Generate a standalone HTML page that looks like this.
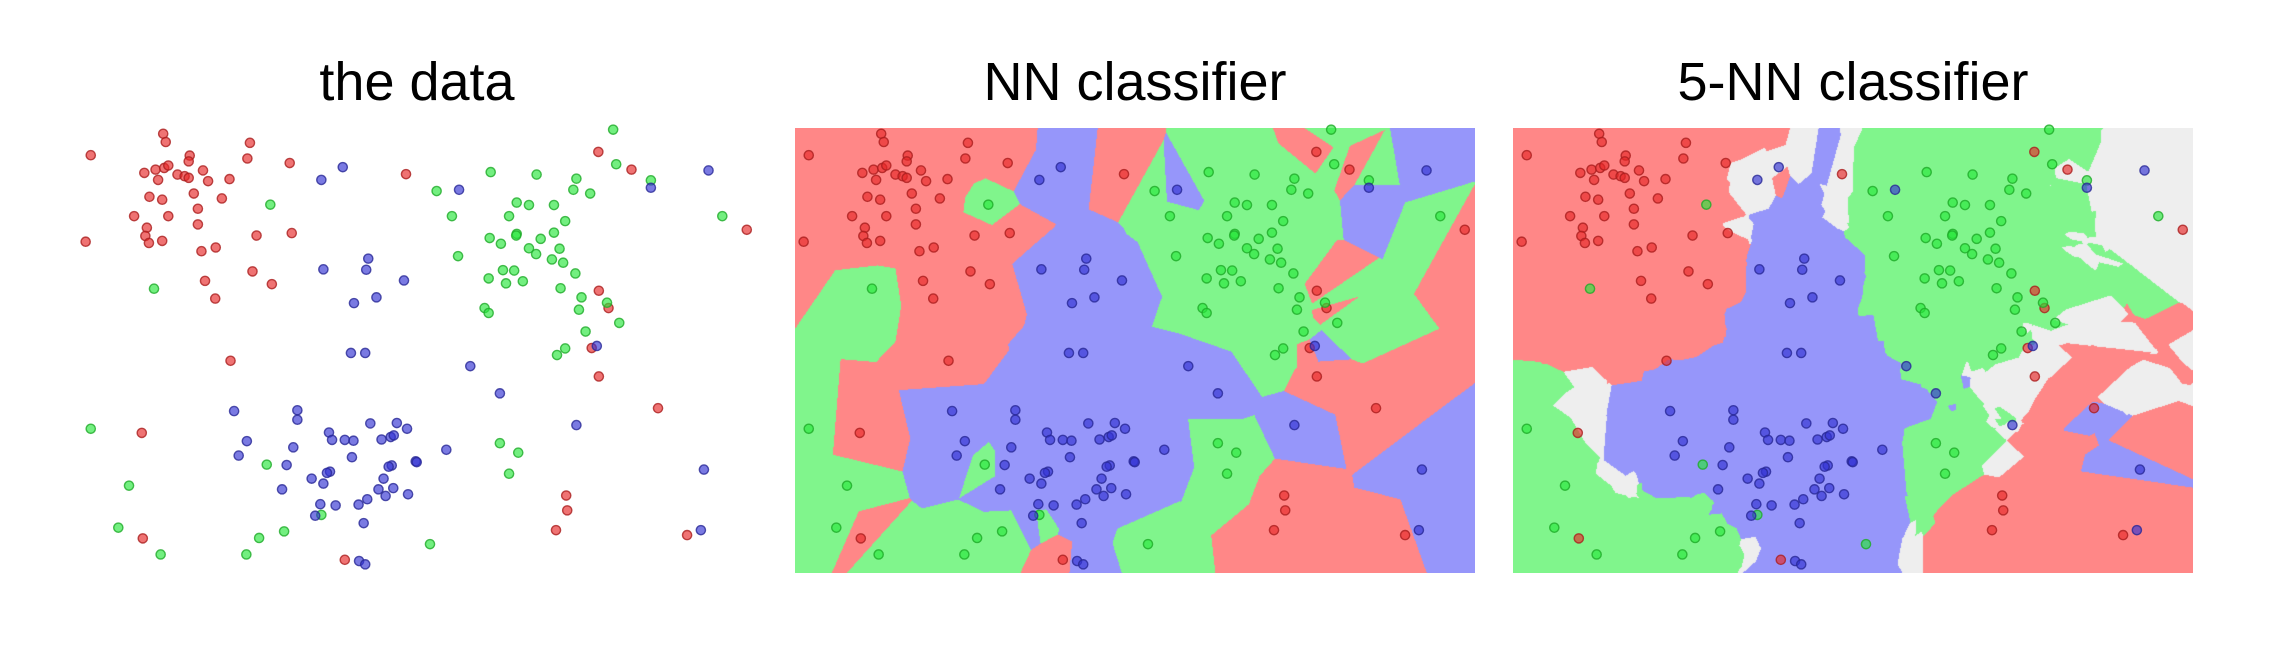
<!DOCTYPE html>
<html><head><meta charset="utf-8">
<style>
body{margin:0;width:2284px;height:646px;background:#fff;position:relative;overflow:hidden;font-family:"Liberation Sans",sans-serif;}
.title{position:absolute;top:50px;width:680px;text-align:center;font-size:54px;color:#000;line-height:64px;}
.panel{position:absolute;top:128px;width:680px;height:445px;}
.panel canvas,.panel svg{position:absolute;left:0;top:0;}
</style></head><body>
<div class="title" style="left:77px">the data</div>
<div class="title" style="left:795px">NN classifier</div>
<div class="title" style="left:1513px">5-NN classifier</div>
<div class="panel" id="p1" style="left:77px"></div>
<div class="panel" id="p2" style="left:795px"></div>
<div class="panel" id="p3" style="left:1513px"></div>
<script>
const redPoints=[[178,377],[320,325],[325,345],[490,347],[485,385],[568,396],[372,378],[370,392],[283,420],[305,412],[322,408],[330,402],[348,424],[362,428],[370,432],[398,414],[408,440],[450,435],[310,437],[293,478],[318,485],[380,470],[435,482],[388,507],[263,525],[330,525],[388,545],[288,553],[285,573],[292,590],[318,585],[168,587],[503,572],[572,566],[395,610],[423,601],[495,659],[533,690],[402,682],[422,725],[796,423],[1173,369],[1238,412],[1464,558],[1174,706],[1193,748],[1160,845],[1174,914],[452,876],[1290,991],[278,1051],[280,1307],[1110,1203],[1112,1239],[1090,1287],[1347,1299],[676,1359]];
const greenPoints=[[1202,315],[1208,399],[962,418],[1052,424],[1130,434],[1124,461],[1157,470],[1276,438],[856,464],[886,525],[1013,492],[1037,498],[1086,498],[998,525],[1108,537],[1416,525],[530,497],[960,578],[982,592],[1013,568],[1012,572],[1060,580],[1086,565],[1037,603],[1051,617],[1097,604],[1082,630],[1104,638],[898,622],[958,676],[986,656],[1008,657],[992,688],[1025,683],[1128,664],[1099,700],[1140,722],[1135,752],[950,748],[958,760],[1190,735],[1214,784],[1148,805],[1108,846],[1092,862],[302,701],[178,1041],[980,1076],[1016,1099],[998,1150],[523,1128],[253,1179],[232,1281],[315,1346],[508,1306],[557,1290],[483,1346],[843,1321],[630,1250]];
const bluePoints=[[672,406],[630,437],[900,461],[1276,456],[1389,414],[722,628],[718,655],[634,654],[792,681],[738,722],[694,736],[688,857],[716,857],[922,889],[980,955],[1170,840],[459,998],[583,996],[583,1019],[726,1028],[778,1027],[798,1041],[645,1050],[651,1068],[676,1068],[693,1070],[748,1067],[766,1061],[772,1057],[484,1071],[575,1086],[468,1106],[690,1110],[875,1092],[562,1129],[647,1145],[641,1148],[768,1130],[762,1133],[815,1120],[817,1122],[611,1162],[634,1174],[752,1162],[553,1188],[742,1188],[771,1185],[756,1204],[800,1200],[720,1212],[628,1224],[658,1227],[703,1225],[618,1252],[713,1270],[1130,1032],[1380,1140],[1374,1287],[704,1362],[716,1370]];
const xDomain=[151,1484];
const yDomain=[311,1391];
const W=680,H=445;
function sx(v){return (v-xDomain[0])/(xDomain[1]-xDomain[0])*W;}
function sy(v){return (v-yDomain[0])/(yDomain[1]-yDomain[0])*H;}
const classes=[{pts:redPoints,name:'red',fill:'rgba(230,40,40,0.65)',stroke:'rgba(170,30,30,0.8)',region:[255,135,135]},
{pts:greenPoints,name:'green',fill:'rgba(40,230,60,0.65)',stroke:'rgba(30,170,40,0.8)',region:[128,245,140]},
{pts:bluePoints,name:'blue',fill:'rgba(50,50,210,0.65)',stroke:'rgba(40,40,150,0.8)',region:[150,150,250]}];
const gray=[238,238,238];
const all=[];
classes.forEach((c,ci)=>c.pts.forEach(p=>all.push([sx(p[0]),sy(p[1]),ci])));
function region(id,k){
  const cv=document.createElement('canvas');cv.width=W;cv.height=H;
  
  
  const ctx=cv.getContext('2d');const img=ctx.createImageData(W,H);const d=img.data;
  const bd=new Array(k),bc=new Array(k);
  for(let y=0;y<H;y++)for(let x=0;x<W;x++){
    for(let i=0;i<k;i++){bd[i]=1e18;bc[i]=-1;}
    for(const p of all){const dx=p[0]-x,dy=p[1]-y,dd=dx*dx+dy*dy;
      if(dd<bd[k-1]){let j=k-1;while(j>0&&bd[j-1]>dd){bd[j]=bd[j-1];bc[j]=bc[j-1];j--;}bd[j]=dd;bc[j]=p[2];}}
    const cnt=[0,0,0];for(let i=0;i<k;i++)cnt[bc[i]]++;
    let m=Math.max(...cnt);let win=cnt.filter(c=>c===m).length>1?-1:cnt.indexOf(m);
    const col=win<0?gray:classes[win].region;const o=(y*W+x)*4;
    d[o]=col[0];d[o+1]=col[1];d[o+2]=col[2];d[o+3]=255;}
  ctx.putImageData(img,0,0);document.getElementById(id).appendChild(cv);
}
function points(id){
  const ns='http://www.w3.org/2000/svg';const svg=document.createElementNS(ns,'svg');
  svg.setAttribute('width',W);svg.setAttribute('height',H);svg.style.overflow='visible';
  
  
  classes.forEach(c=>c.pts.forEach(p=>{const e=document.createElementNS(ns,'circle');
    e.setAttribute('cx',sx(p[0]));e.setAttribute('cy',sy(p[1]));e.setAttribute('r',4.6);
    e.setAttribute('fill',c.fill);e.setAttribute('stroke',c.stroke);e.setAttribute('stroke-width',1.4);
    
    
    svg.appendChild(e);}));
  document.getElementById(id).appendChild(svg);
}
region('p2',1);region('p3',5);
points('p1');points('p2');points('p3');
</script>
</body></html>
